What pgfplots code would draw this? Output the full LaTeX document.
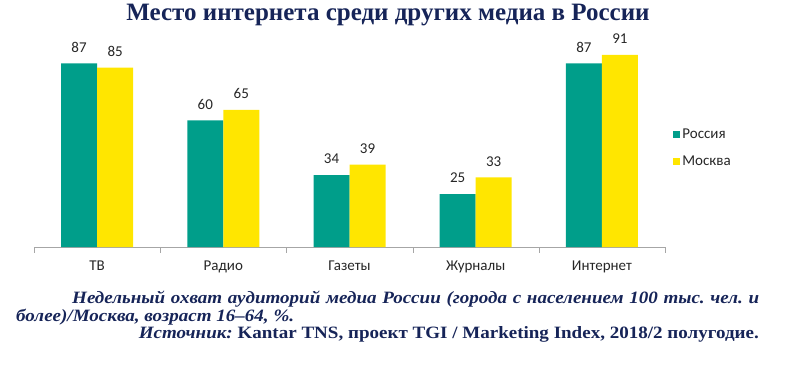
\documentclass[border=0pt]{standalone}
\usepackage{fontspec}
\usepackage{pgfplots}
\pgfplotsset{compat=1.18}
\newfontfamily\calf{Carlito}
\newfontfamily\tmsf{Liberation Serif}
\newfontfamily\tmsw{Liberation Serif}[FakeStretch=1.1]
\definecolor{rusteal}{RGB}{0,158,138}
\definecolor{mskyel}{RGB}{255,230,0}
\definecolor{navy}{RGB}{22,36,88}
\frenchspacing
\begin{document}
\begin{tikzpicture}[x=1bp,y=1bp]
\path[use as bounding box] (0,0) rectangle (800,385);
\begin{axis}[at={(34bp,138bp)}, anchor=south west, scale only axis,
  width=631bp, height=211.1bp, ymin=0, ymax=100, xmin=-0.5, xmax=4.5,
  ybar=0pt, bar width=36bp,
  /pgf/number format/assume math mode=true,
  axis x line=bottom, axis y line=none,
  x axis line style={-, draw=gray!70},
  xtick={0,1,2,3,4},
  xticklabels={ТВ,Радио,Газеты,Журналы,Интернет},
  major tick length=0pt,
  xticklabel style={font=\calf\fontsize{15bp}{17bp}\selectfont, yshift=-10bp, text=black!85},
  extra x ticks={-0.5,0.5,1.5,2.5,3.5,4.5},
  extra x tick labels={},
  extra x tick style={major tick length=5.5bp, tick align=outside, tick style={draw=gray!70}},
  nodes near coords,
  every node near coord/.append style={font=\calf\fontsize{15bp}{17bp}\selectfont, anchor=south, inner sep=0pt, yshift=11bp, text=black!85},
  clip=false,
  legend style={draw=none, fill=none, at={(axis description cs:1.013,0.469)}, anchor=west,
    font=\calf\fontsize{15bp}{17bp}\selectfont, inner sep=0pt, row sep=12bp,
    legend cell align=left, text=black!85},
]
\addplot[fill=rusteal, draw=none, legend image code/.code={\fill[rusteal] (0bp,-3.5bp) rectangle (7bp,3.5bp);}]
  coordinates {(0,87) (1,60) (2,34) (3,25) (4,87)};
\addlegendentry{Россия}
\addplot[fill=mskyel, draw=none, legend image code/.code={\fill[mskyel] (0bp,-3.5bp) rectangle (7bp,3.5bp);}]
  coordinates {(0,85) (1,65) (2,39) (3,33) (4,91)};
\addlegendentry{Москва}
\end{axis}
\node[anchor=base, text=navy, font=\tmsf\bfseries\fontsize{25bp}{29bp}\selectfont] at (388,365) {Место интернета среди других медиа в России};
\begin{scope}[text=navy, every node/.style={font=\tmsw\bfseries\fontsize{17.3bp}{20bp}\selectfont, inner sep=0pt}]
\node[anchor=base west] at (72,82) {\makebox[687bp][s]{\itshape Недельный охват аудиторий медиа России (города с населением 100 тыс. чел. и}};
\node[anchor=base west] at (16,63.5) {\itshape более)/Москва, возраст 16–64, \%.};
\node[anchor=base east] at (759,46.5) {{\itshape Источник:} Kantar TNS, проект TGI / Marketing Index, 2018/2 полугодие.};
\end{scope}
\end{tikzpicture}
\end{document}
